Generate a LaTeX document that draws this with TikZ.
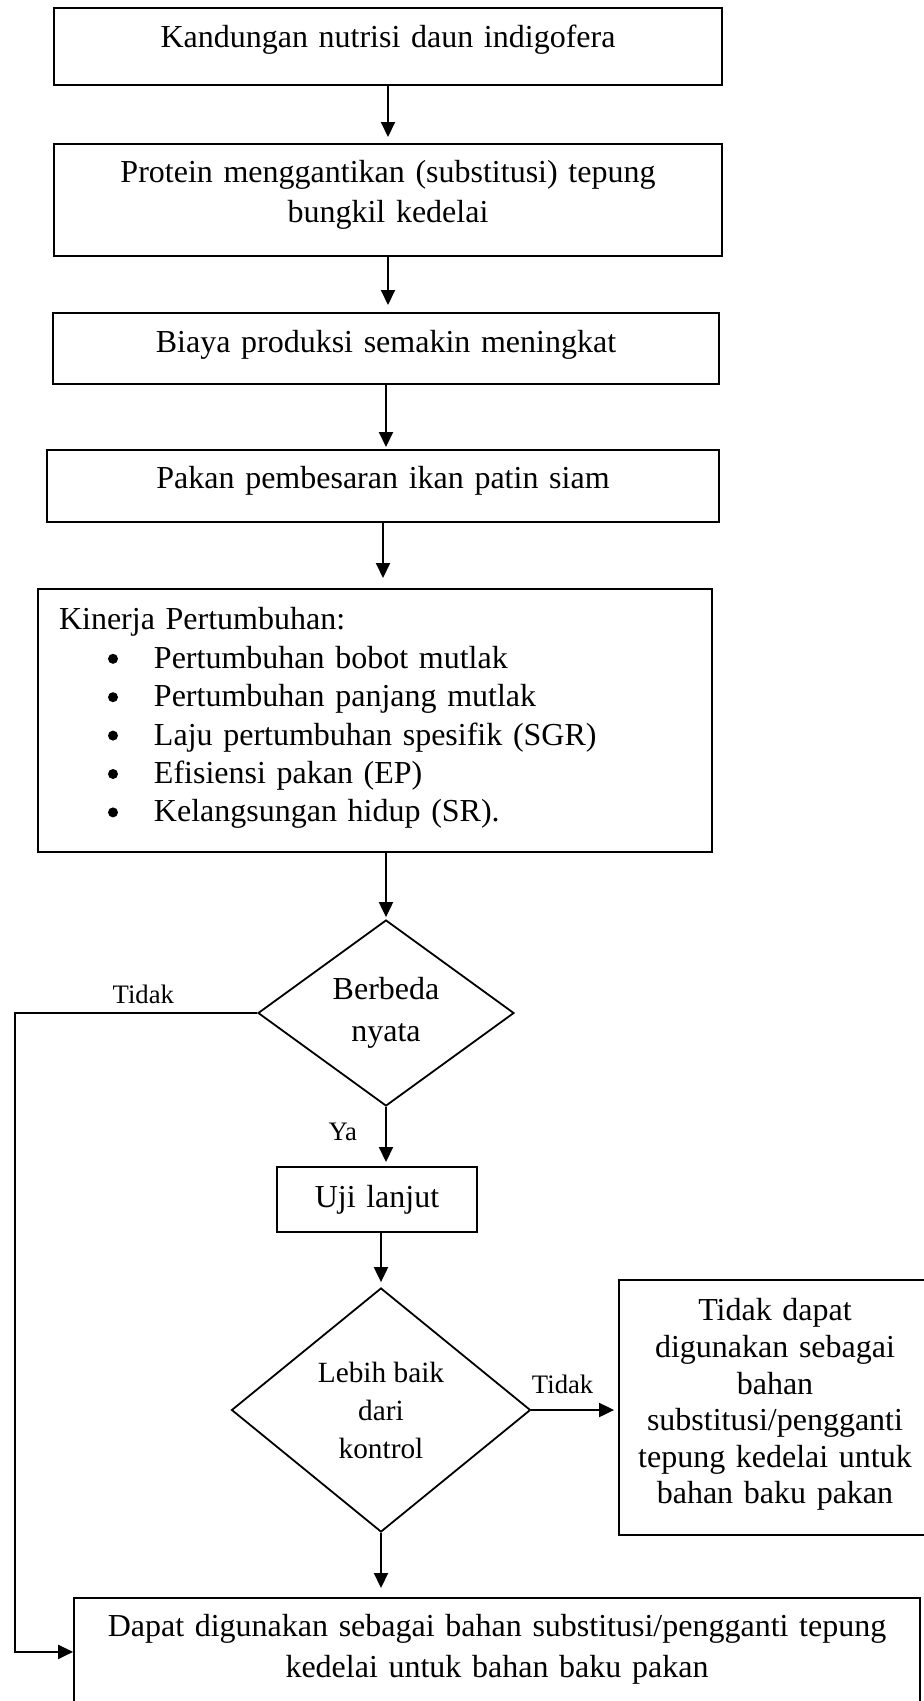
\documentclass[tikz,border=0pt]{standalone}
\usepackage{fontspec}
\setmainfont{Liberation Serif}
\usetikzlibrary{arrows.meta,positioning,shapes.geometric}
\newcommand{\bodysize}{\fontsize{32}{37}\selectfont}
\newcommand{\labelsize}{\fontsize{26.67}{32}\selectfont}
\newcommand{\poin}{\hspace*{49pt}\makebox[46pt][l]{\raisebox{4.5pt}{\tikz\fill (0,0) circle (5pt);}}}
\begin{document}
\begin{tikzpicture}[x=1pt,y=-1pt,>={Triangle[length=15pt,width=14pt]},
  box/.style={draw,line width=1.8pt,inner sep=0pt,anchor=north,align=center,font=\bodysize},
  decision/.style={draw,diamond,line width=1.8pt,inner sep=0pt,align=center},
  lbl/.style={inner sep=0pt,font=\labelsize},
  arr/.style={->,line width=2pt,shorten >=#1},arr/.default=4pt]
\useasboundingbox (0,0) rectangle (924,1701);
\node[box,text width=668pt,text height=40pt,text depth=37pt] (nutrisi) at (388,7) {Kandungan nutrisi daun indigofera};
\node[box,text width=668pt,text height=39pt,text depth=73pt,font=\fontsize{32}{40}\selectfont] (protein) at (388,143) {Protein menggantikan (substitusi) tepung\\bungkil kedelai};
\node[box,text width=666pt,text height=40pt,text depth=31pt] (biaya) at (386,312) {Biaya produksi semakin meningkat};
\node[box,text width=672pt,text height=39pt,text depth=33pt] (pakan) at (383,449) {Pakan pembesaran ikan patin siam};
\node[box,align=left,inner xsep=21pt,text width=632pt,text height=41pt,text depth=222pt,font=\fontsize{32}{38.4}\selectfont] (kinerja) at (375,588) {Kinerja Pertumbuhan:\\
  \poin Pertumbuhan bobot mutlak\\
  \poin Pertumbuhan panjang mutlak\\
  \poin Laju pertumbuhan spesifik (SGR)\\
  \poin Efisiensi pakan (EP)\\
  \poin Kelangsungan hidup (SR).};
\node[decision,minimum width=256pt,minimum height=186pt,font=\fontsize{32}{42}\selectfont] (berbeda) at (386,1013) {Berbeda\\nyata};
\node[box,text width=200pt,text height=41pt,text depth=24pt] (uji) at (377,1166) {Uji lanjut};
\node[decision,minimum width=299pt,minimum height=244pt,font=\fontsize{29.33}{38}\selectfont] (lebih) at (381,1410) {Lebih baik\\dari\\kontrol};
\node[box,text width=312pt,text height=41pt,text depth=214pt,font=\fontsize{32}{36.6}\selectfont] (gagal) at (775,1279) {Tidak dapat\\digunakan sebagai\\bahan\\substitusi/pengganti\\tepung kedelai untuk\\bahan baku pakan};
\node[box,text width=846pt,text height=39pt,text depth=69pt,font=\fontsize{32}{41}\selectfont] (dapat) at (497,1597) {Dapat digunakan sebagai bahan substitusi/pengganti tepung\\kedelai untuk bahan baku pakan};
\coordinate (rail) at (15,1013);
% alur utama
\draw[arr=6pt] (nutrisi.south) -- (nutrisi.south |- protein.north);
\draw[arr=7pt] (protein.south) -- (protein.south |- biaya.north);
\draw[arr=2pt] (biaya.south) -- (biaya.south |- pakan.north);
\draw[arr=10pt] (pakan.south) -- (pakan.south |- kinerja.north);
\draw[arr=2pt] (berbeda.north |- kinerja.south) -- (berbeda.north);
\draw[arr] (berbeda.south) -- node[lbl,left=28pt,pos=0.42] {Ya} (berbeda.south |- uji.north);
\draw[arr=5pt] (uji.south -| lebih.north) -- (lebih.north);
\draw[arr] (lebih.east) -- node[lbl,above=15pt,pos=0.36] {Tidak} (lebih.east -| gagal.west);
\draw[arr=9pt] (lebih.south) -- (lebih.south |- dapat.north);
% cabang tidak berbeda
\draw[arr=0pt] (berbeda.west) -- node[lbl,above=8pt,pos=0.47] {Tidak} (rail) |- (dapat.west);
\end{tikzpicture}
\end{document}
